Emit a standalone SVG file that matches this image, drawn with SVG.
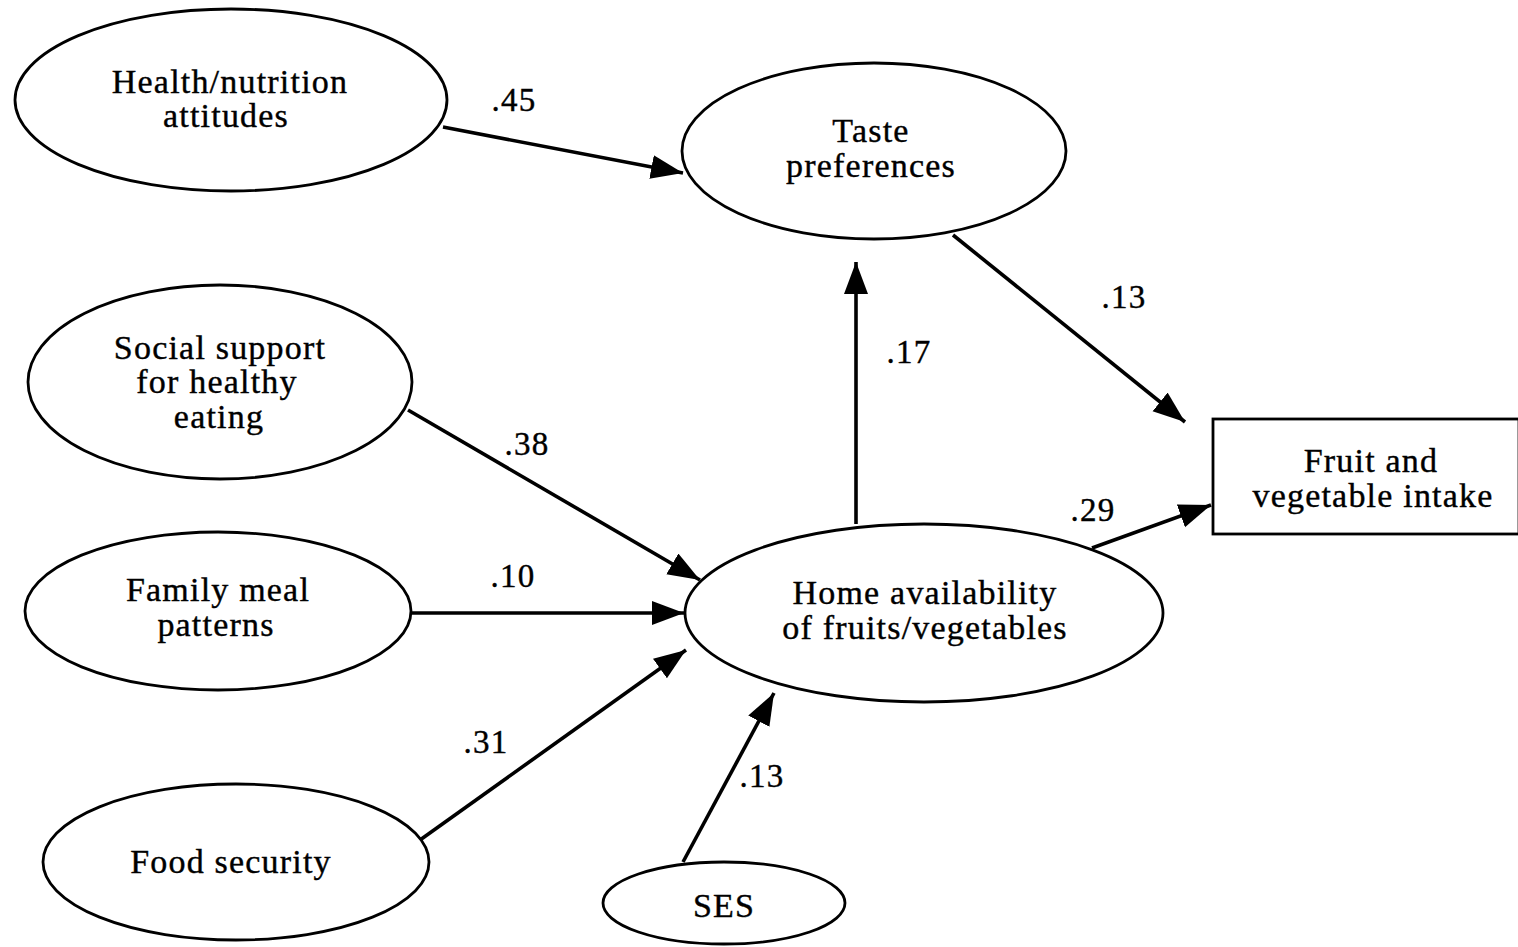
<svg xmlns="http://www.w3.org/2000/svg" width="1518" height="947" viewBox="0 0 1518 947">
<defs>
<marker id="ah" markerUnits="userSpaceOnUse" markerWidth="34" markerHeight="26" refX="32" refY="12" orient="auto">
<path d="M0,0 L32,12 L0,24 z" fill="#000"/>
</marker>
<style>
.n{fill:#fff;stroke:#000;stroke-width:2.8}
.t{font-family:"Liberation Serif","Times New Roman",serif;font-size:34px;letter-spacing:1.2px;text-anchor:middle;fill:#000;stroke:#000;stroke-width:0.4}
.l{font-family:"Liberation Serif","Times New Roman",serif;font-size:33px;letter-spacing:1.3px;text-anchor:middle;fill:#000;stroke:#000;stroke-width:0.4}
.c{fill:none;stroke:#000;stroke-width:3.6;marker-end:url(#ah)}
</style>
</defs>
<rect width="1518" height="947" fill="#fff"/>
<g id="connectors">
<line class="c" x1="443" y1="127" x2="683" y2="173"/>
<line class="c" x1="408" y1="410" x2="700" y2="580"/>
<line class="c" x1="411" y1="613" x2="684" y2="613"/>
<line class="c" x1="420" y1="840" x2="686" y2="650"/>
<line class="c" x1="683" y1="862" x2="774" y2="693"/>
<line class="c" x1="856" y1="524" x2="856" y2="262"/>
<line class="c" x1="953" y1="235" x2="1185" y2="422"/>
<line class="c" x1="1092" y1="548" x2="1211" y2="505"/>
<text class="l" x="514" y="111">.45</text>
<text class="l" x="527" y="455">.38</text>
<text class="l" x="513" y="587">.10</text>
<text class="l" x="486" y="753">.31</text>
<text class="l" x="762" y="787">.13</text>
<text class="l" x="909" y="363">.17</text>
<text class="l" x="1124" y="308">.13</text>
<text class="l" x="1093" y="521">.29</text>
</g>
<g id="health">
<ellipse class="n" cx="231" cy="100" rx="216" ry="91"/>
<text class="t" x="230" y="93">Health/nutrition</text>
<text class="t" x="226" y="127">attitudes</text>
</g>
<g id="taste">
<ellipse class="n" cx="874" cy="151" rx="192" ry="88"/>
<text class="t" x="871" y="142">Taste</text>
<text class="t" x="871" y="177">preferences</text>
</g>
<g id="social">
<ellipse class="n" cx="220" cy="382" rx="192" ry="97"/>
<text class="t" x="220" y="359">Social support</text>
<text class="t" x="217" y="393">for healthy</text>
<text class="t" x="219" y="428">eating</text>
</g>
<g id="family">
<ellipse class="n" cx="218" cy="611" rx="193" ry="79"/>
<text class="t" x="218" y="601">Family meal</text>
<text class="t" x="216" y="636">patterns</text>
</g>
<g id="food">
<ellipse class="n" cx="236" cy="862" rx="193" ry="78"/>
<text class="t" x="231" y="873">Food security</text>
</g>
<g id="home">
<ellipse class="n" cx="924" cy="613" rx="239" ry="89"/>
<text class="t" x="925" y="604">Home availability</text>
<text class="t" x="925" y="639">of fruits/vegetables</text>
</g>
<g id="ses">
<ellipse class="n" cx="724" cy="903" rx="121" ry="41"/>
<text class="t" x="724" y="917">SES</text>
</g>
<g id="intake">
<rect class="n" x="1213" y="419" width="306" height="115"/>
<text class="t" x="1371" y="472">Fruit and</text>
<text class="t" x="1373" y="507">vegetable intake</text>
</g>
</svg>
